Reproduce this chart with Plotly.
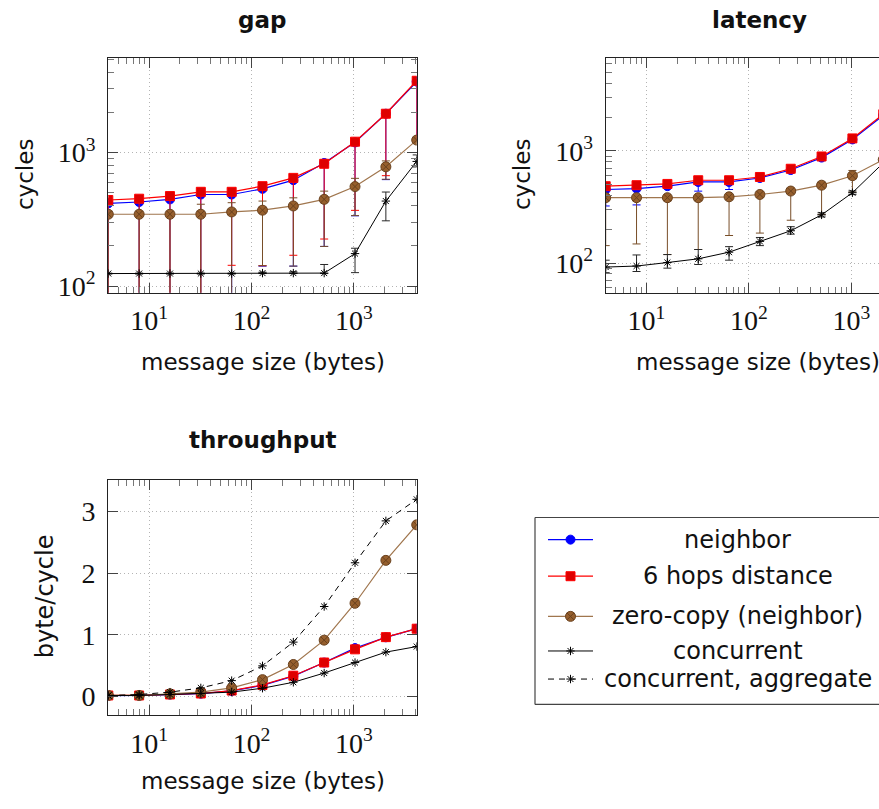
import numpy as np
import plotly.graph_objects as go

W, H = 879, 809

# ---------------------------------------------------------------- data
sizes = [4, 8, 16, 32, 64, 128, 256, 512, 1024, 2048, 4096]

# gap (cycles): mean, lower bound, upper bound
gap_neighbor = [416, 426, 446, 485, 485, 535, 621, 835, 1192, 1954, 3400]
gap_neighbor_lo = [60, 60, 60, 60, 60, 141, 141, 198, 336, 627, 1250]
gap_neighbor_hi = [430, 440, 462, 500, 500, 552, 640, 870, 1230, 2010, 3500]

gap_hops = [441, 451, 472, 508, 508, 560, 646, 824, 1206, 1954, 3451]
gap_hops_lo = [60, 60, 60, 60, 143, 142, 170, 225, 369, 671, 1280]
gap_hops_hi = [455, 465, 486, 523, 523, 577, 665, 850, 1240, 2010, 3550]

gap_zero = [345, 345, 345, 345, 359, 370, 398, 446, 556, 782, 1240]
gap_zero_lo = [60, 60, 60, 60, 60, 142, 141, 198, 337, 631, 1200]
gap_zero_hi = [355, 355, 358, 410, 421, 433, 458, 514, 641, 866, 1280]

gap_conc = [124, 124, 124, 124, 124, 125, 125, 125, 175, 433, 858]
gap_conc_lo = [123, 123, 123, 123, 123, 124, 124, 124, 126, 308, 780]
gap_conc_hi = [125, 125, 125, 125, 125, 127, 128, 145, 192, 506, 960]

# latency (cycles): mean, lower bound, upper bound
lat_neighbor = [453, 462, 485, 529, 529, 574, 676, 873, 1268, 2080, 3650]
lat_neighbor_lo = [323, 330, 470, 438, 453, 560, 660, 850, 1240, 2030, 3550]
lat_neighbor_hi = [470, 478, 500, 545, 545, 590, 695, 895, 1300, 2130, 3750]

lat_hops = [485, 495, 508, 548, 548, 586, 694, 893, 1295, 2128, 3700]
lat_hops_lo = [470, 480, 492, 530, 530, 570, 675, 870, 1265, 2080, 3600]
lat_hops_hi = [500, 510, 524, 566, 566, 602, 712, 915, 1325, 2170, 3800]

lat_zero = [383, 383, 383, 383, 390, 409, 439, 495, 601, 838, 1350]
lat_zero_lo = [143, 148, 119, 132, 176, 185, 241, 272, 430, 780, 1250]
lat_zero_hi = [395, 395, 395, 395, 402, 422, 452, 510, 670, 880, 1420]

lat_conc = [92, 94, 101, 109, 125, 156, 194, 269, 424, 782, 1300]
lat_conc_lo = [82, 84, 90, 97, 106, 143, 181, 258, 408, 760, 1270]
lat_conc_hi = [106, 118, 119, 132, 140, 169, 211, 281, 440, 805, 1330]

# throughput (byte/cycle)
tp_neighbor = [0.015, 0.016, 0.030, 0.045, 0.090, 0.180, 0.330, 0.550, 0.785, 0.960, 1.100]
tp_hops = [0.016, 0.016, 0.032, 0.048, 0.096, 0.187, 0.337, 0.551, 0.765, 0.963, 1.100]
tp_zero = [0.016, 0.016, 0.043, 0.070, 0.139, 0.273, 0.519, 0.914, 1.513, 2.209, 2.786]
tp_conc = [0.016, 0.016, 0.032, 0.048, 0.070, 0.134, 0.230, 0.380, 0.550, 0.720, 0.810]
tp_agg = [0.016, 0.032, 0.070, 0.139, 0.257, 0.497, 0.882, 1.460, 2.170, 2.850, 3.200]

series_names = ["neighbor", "6 hops distance", "zero-copy (neighbor)",
                "concurrent", "concurrent, aggregate"]

x_major = [10, 100, 1000]
x_major_text = ["10<sup>1</sup>", "10<sup>2</sup>", "10<sup>3</sup>"]
y_major = [100, 1000]
y_major_text = ["10<sup>2</sup>", "10<sup>3</sup>"]
tp_ticks = [0, 1, 2, 3]

# ---------------------------------------------------------------- styles
BLUE = "rgb(0,0,255)"
RED = "rgb(255,0,0)"
RED_FILL = "rgb(222,0,0)"
BROWN_LINE = "rgb(160,118,78)"
BROWN_FILL = "rgb(150,95,45)"
BROWN_EDGE = "rgb(105,65,30)"
BROWN_ERR = "rgb(120,78,40)"
BLACK = "rgb(0,0,0)"

SANS = "DejaVu Sans"
SERIF = "Liberation Serif"

styles = [
    dict(line=dict(color=BLUE, width=1.2),
         marker=dict(symbol="circle", size=9, color=BLUE, line=dict(color=BLUE, width=1)),
         err=BLUE),
    dict(line=dict(color=RED, width=1.2),
         marker=dict(symbol="square", size=9, color=RED_FILL, line=dict(color=RED, width=1)),
         err=RED),
    dict(line=dict(color=BROWN_LINE, width=1.2),
         marker=dict(symbol="circle-x", size=10, color=BROWN_FILL, line=dict(color=BROWN_EDGE, width=1)),
         err=BROWN_ERR),
    dict(line=dict(color=BLACK, width=1),
         marker=dict(symbol="asterisk-open", size=7, color=BLACK, line=dict(color=BLACK, width=1)),
         err="rgb(40,40,40)"),
    dict(line=dict(color=BLACK, width=1, dash="6px,5px"),
         marker=dict(symbol="asterisk-open", size=7, color=BLACK, line=dict(color=BLACK, width=1)),
         err=BLACK),
]


def px(x):
    return x / W


def py(y):
    return 1 - y / H


fig = go.Figure()


def add_series(xa, ya, values, k, lo=None, hi=None):
    st = styles[k]
    tr = dict(x=sizes, y=values, mode="lines+markers", xaxis=xa, yaxis=ya,
              line=st["line"], marker=st["marker"], showlegend=False,
              name=series_names[k])
    if lo is not None:
        tr["error_y"] = dict(type="data", symmetric=False,
                             array=[h - v for h, v in zip(hi, values)],
                             arrayminus=[v - l for v, l in zip(values, lo)],
                             color=st["err"], thickness=1, width=4)
    fig.add_trace(go.Scatter(**tr))


# gap panel
add_series("x", "y", gap_neighbor, 0, gap_neighbor_lo, gap_neighbor_hi)
add_series("x", "y", gap_hops, 1, gap_hops_lo, gap_hops_hi)
add_series("x", "y", gap_zero, 2, gap_zero_lo, gap_zero_hi)
add_series("x", "y", gap_conc, 3, gap_conc_lo, gap_conc_hi)

# latency panel
add_series("x2", "y2", lat_neighbor, 0, lat_neighbor_lo, lat_neighbor_hi)
add_series("x2", "y2", lat_hops, 1, lat_hops_lo, lat_hops_hi)
add_series("x2", "y2", lat_zero, 2, lat_zero_lo, lat_zero_hi)
add_series("x2", "y2", lat_conc, 3, lat_conc_lo, lat_conc_hi)

# throughput panel
add_series("x3", "y3", tp_neighbor, 0)
add_series("x3", "y3", tp_hops, 1)
add_series("x3", "y3", tp_zero, 2)
add_series("x3", "y3", tp_conc, 3)
add_series("x3", "y3", tp_agg, 4)

# legend samples drawn in their own pixel-scaled axes
leg_rows = [545.7, 582.7, 623.3, 658.3, 686.7]
for k, yrow in enumerate(leg_rows):
    st = styles[k]
    fig.add_trace(go.Scatter(x=[548, 593], y=[yrow, yrow], mode="lines",
                             line=st["line"], xaxis="x4", yaxis="y4",
                             showlegend=False, hoverinfo="skip"))
    fig.add_trace(go.Scatter(x=[570.5], y=[yrow], mode="markers",
                             marker=st["marker"], xaxis="x4", yaxis="y4",
                             showlegend=False, hoverinfo="skip"))

# ---------------------------------------------------------------- axes
minor_x = [v * m for v in (1, 10, 100) for m in range(2, 10)] + [2000, 3000, 4000]
minor_x = [v for v in minor_x if 4 < v < 4096]
minor_gap_y = [90] + [m * 100 for m in range(2, 10)] + [m * 1000 for m in range(2, 6)]
minor_lat_y = [60, 70, 80, 90] + [m * 100 for m in range(2, 10)] + [m * 1000 for m in range(2, 7)]

axis_common = dict(showline=True, linecolor="#222", linewidth=1.2,
                   ticks="inside", ticklen=10, tickwidth=1, tickcolor="#444",
                   showgrid=True, gridcolor="#b4b4b4", griddash="1px,3px", gridwidth=1,
                   zeroline=False, tickfont=dict(family=SERIF, size=28, color="#111"))


def minor_spec(vals):
    return dict(tickmode="array", tickvals=vals, ticks="inside",
                ticklen=6, tickcolor="#777", showgrid=False)


def log_x(domain, rng, anchor, mirror="allticks"):
    return dict(axis_common, type="log", domain=domain, range=rng, mirror=mirror,
                tickmode="array", tickvals=x_major, ticktext=x_major_text,
                anchor=anchor, ticklabelstandoff=3, minor=minor_spec(minor_x))


def log_y(domain, rng, minor_vals, anchor, mirror="allticks"):
    return dict(axis_common, type="log", domain=domain, range=rng, mirror=mirror,
                tickmode="array", tickvals=y_major, ticktext=y_major_text,
                anchor=anchor, ticklabelstandoff=6, minor=minor_spec(minor_vals))


xr_full = [np.log10(4), np.log10(4096)]
xr_lat = [np.log10(4), np.log10(4) + (W - 605.7) / 102.45]

top_dom = [py(296), py(58.3)]
bot_dom = [py(723.3), py(485)]

layout = dict(
    width=W, height=H, margin=dict(l=0, r=0, t=0, b=0),
    paper_bgcolor="white", plot_bgcolor="white",
    font=dict(family=SANS, size=24, color="#111"),
    showlegend=False,
    xaxis=log_x([px(108.3), px(416.7)], xr_full, "y"),
    yaxis=log_y(top_dom, [1.950, 3.711], minor_gap_y, "x"),
    xaxis2=log_x([px(605.7), 1.0], xr_lat, "y2"),
    yaxis2=log_y(top_dom, [1.735, 3.833], minor_lat_y, "x2", mirror=False),
    xaxis3=log_x([px(108.3), px(416.7)], xr_full, "y3"),
    yaxis3=dict(axis_common, type="linear", domain=bot_dom, range=[-0.305, 3.52],
                mirror="allticks", tickmode="array", tickvals=tp_ticks,
                ticktext=[str(v) for v in tp_ticks], anchor="x3",
                ticklabelstandoff=6),
    xaxis4=dict(domain=[px(535), 1.0], range=[535, W], visible=False,
                fixedrange=True, anchor="y4"),
    yaxis4=dict(domain=[py(712.3), py(523.3)], range=[712.3, 523.3], visible=False,
                fixedrange=True, anchor="x4"),
)
fig.update_layout(**layout)

# legend frame (open on the right, running past the page edge)
leg_frame = dict(xref="paper", yref="paper", line=dict(color="#444", width=1.2))
fig.add_shape(type="line", x0=px(535), x1=1.0, y0=py(523.3), y1=py(523.3), **leg_frame)
fig.add_shape(type="line", x0=px(535), x1=1.0, y0=py(712.3), y1=py(712.3), **leg_frame)
fig.add_shape(type="line", x0=px(535), x1=px(535), y0=py(712.3), y1=py(523.3), **leg_frame)

# ---------------------------------------------------------------- text
annotations = []


def text(x, y, s, size=24, bold=False, angle=0):
    annotations.append(dict(x=px(x), y=py(y), xref="paper", yref="paper",
                            text=f"<b>{s}</b>" if bold else s, showarrow=False,
                            textangle=angle, xanchor="center", yanchor="middle",
                            font=dict(family=SANS, size=size, color="#111")))


text(261.5, 20, "gap", size=23, bold=True)
text(759, 20, "latency", size=23, bold=True)
text(263, 445, "throughput", size=23, bold=True)

text(262.5, 366, "message size (bytes)", size=23)
text(758, 366, "message size (bytes)", size=23)
text(262.5, 790, "message size (bytes)", size=23)

text(25, 177, "cycles", size=23, angle=-90)
text(522, 177, "cycles", size=23, angle=-90)
text(45, 603, "byte/cycle", angle=-90)

for name, yrow in zip(series_names, leg_rows):
    text(737.5, yrow, name)

fig.update_layout(annotations=annotations)

fig.write_html("out.html")
